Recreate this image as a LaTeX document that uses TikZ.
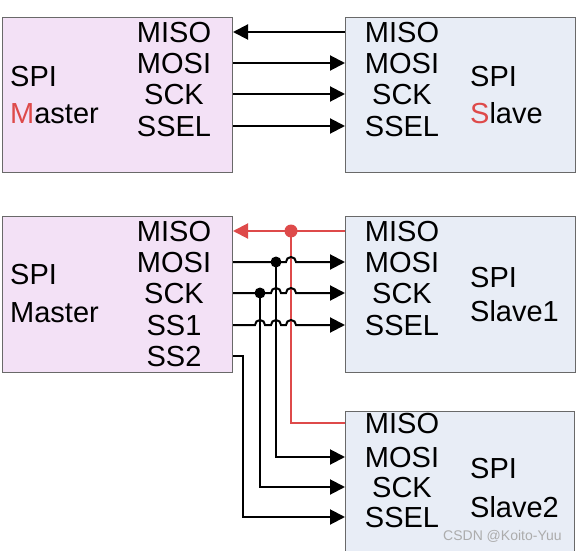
\documentclass[tikz,border=0pt]{standalone}
\usepackage{fontspec}
\setmainfont{Liberation Sans}
\usetikzlibrary{arrows.meta,calc}
\definecolor{masterfill}{RGB}{243,225,246}
\definecolor{slavefill}{RGB}{232,237,246}
\definecolor{boxline}{RGB}{105,105,105}
\definecolor{sigred}{RGB}{222,74,74}
\tikzset{
  chip/.style={draw=boxline, line width=1pt, inner sep=0pt, anchor=north west},
  sig/.style={font=\fontsize{29}{29}\selectfont, text height=21pt, text depth=0pt, inner sep=0pt},
  title/.style={sig, anchor=west},
  wire/.style={line width=2pt, -{Triangle[length=15pt,width=15pt]}},
  bus/.style={line width=2pt}
}
\begin{document}
\begin{tikzpicture}[x=1pt,y=-1pt]
\fill[white] (0,0) rectangle (576,551);
\useasboundingbox (0,0) rectangle (576,551);
% one master, one slave
\node[chip, fill=masterfill, minimum width=230pt, minimum height=155pt] (tmaster) at (2,17) {};
\node[chip, fill=slavefill, minimum width=230pt, minimum height=155pt] (tslave) at (345,17) {};
\foreach \t/\y [count=\i] in {MISO/32,MOSI/63,SCK/94,SSEL/126}
{
\node[sig] (tm\i) at (174,\y) {\t};
\node[sig] (ts\i) at (402,\y) {\t};
}
\node[title] (tspim) at (10,76) {SPI};
\node[title] (tmname) at (10,113) {{\color{sigred}M}aster};
\node[title] (tspis) at (470,76) {SPI};
\node[title] (tsname) at (470,113) {{\color{sigred}S}lave};
\draw[wire] (ts1 -| tslave.west) -- (tm1 -| tmaster.east);
\foreach \i in {2,3,4}
\draw[wire] (tm\i -| tmaster.east) -- (ts\i -| tslave.west);
% one master, two slaves
\node[chip, fill=masterfill, minimum width=230pt, minimum height=156pt] (bmaster) at (2,216) {};
\node[chip, fill=slavefill, minimum width=230pt, minimum height=156pt] (slave1) at (345,216) {};
\node[chip, fill=slavefill, minimum width=229pt, minimum height=150pt] (slave2) at (345,411) {};
\foreach \t/\y [count=\i] in {MISO/231,MOSI/262,SCK/293,SS1/325,SS2/356}
\node[sig] (bm\i) at (174,\y) {\t};
\foreach \t/\y [count=\i] in {MISO/231,MOSI/262,SCK/293,SSEL/325}
\node[sig] (bs\i) at (402,\y) {\t};
\foreach \t/\y [count=\i] in {MISO/423,MOSI/457,SCK/487,SSEL/517}
\node[sig] (cs\i) at (402,\y) {\t};
\node[title] (bspim) at (10,274) {SPI};
\node[title] (bmname) at (10,312) {Master};
\node[title] (spi1) at (470,277) {SPI};
\node[title] (s1name) at (470,311) {Slave1};
\node[title] (spi2) at (470,468) {SPI};
\node[title] (s2name) at (470,507) {Slave2};
\coordinate (vmiso) at (291,231);
\coordinate (vmosi) at (276,262);
\coordinate (vsck) at (260,293);
\coordinate (vss) at (243,356);
% MISO back to the master
\draw[wire, sigred] (bs1 -| slave1.west) -- (bm1 -| bmaster.east);
\draw[bus, sigred] (vmiso) |- (cs1 -| slave2.west);
\fill[sigred] (vmiso) circle (6.5pt);
% MOSI, SCK, SS1 with hops
\draw[wire] (bm2 -| bmaster.east) -- ($(bm2 -| vmiso)+(-5,0)$)
  arc[start angle=180, end angle=0, radius=5pt] -- (bs2 -| slave1.west);
\draw[wire] (bm3 -| bmaster.east) -- ($(bm3 -| vmosi)+(-5,0)$)
  arc[start angle=180, end angle=0, radius=5pt] -- ($(bm3 -| vmiso)+(-5,0)$)
  arc[start angle=180, end angle=0, radius=5pt] -- (bs3 -| slave1.west);
\draw[wire] (bm4 -| bmaster.east) -- ($(bm4 -| vsck)+(-5,0)$)
  arc[start angle=180, end angle=0, radius=5pt] -- ($(bm4 -| vmosi)+(-5,0)$)
  arc[start angle=180, end angle=0, radius=5pt] -- ($(bm4 -| vmiso)+(-5,0)$)
  arc[start angle=180, end angle=0, radius=5pt] -- (bs4 -| slave1.west);
% branches to slave 2
\draw[wire] (vmosi) |- (cs2 -| slave2.west);
\draw[wire] (vsck) |- (cs3 -| slave2.west);
\draw[wire] (bm5 -| bmaster.east) -- (vss) |- (cs4 -| slave2.west);
\fill (vmosi) circle (5.5pt);
\fill (vsck) circle (5.5pt);
\node[font=\fontsize{14}{14}\selectfont, text=gray!65, anchor=west, inner sep=0pt] (mark) at (443,536) {CSDN @Koito-Yuu};
\end{tikzpicture}
\end{document}
